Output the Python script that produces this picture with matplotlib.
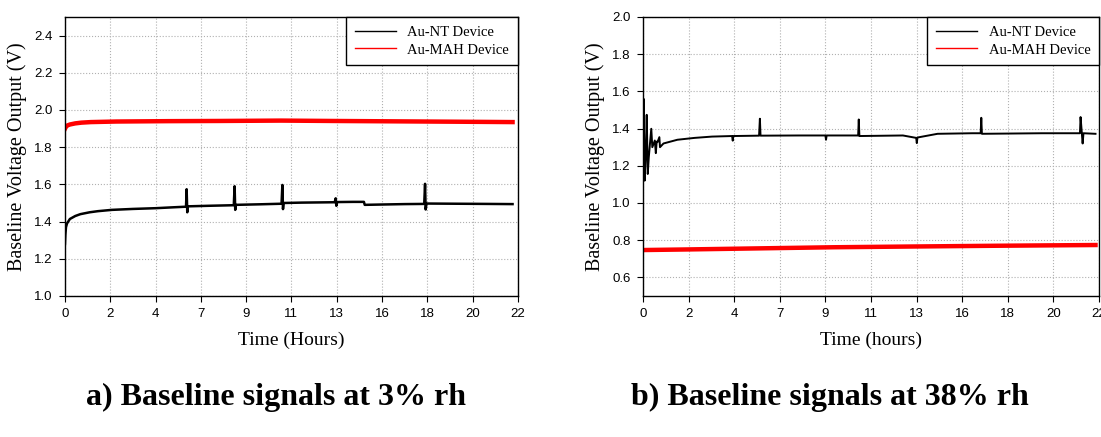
import matplotlib
matplotlib.use("Agg")
import matplotlib.pyplot as plt

# a) 3% rh  (x in axis units: 11 evenly spaced ticks over 0..22)
t_a_nt = [0.00, 0.02, 0.05, 0.10, 0.24, 0.50, 0.75, 1.20, 1.60, 2.28,
          3.30, 4.40, 5.30, 5.88, 5.91, 5.94, 5.97, 7.00, 8.20, 8.24,
          8.27, 8.30, 9.50, 10.52, 10.56, 10.59, 10.62, 11.50, 13.10, 13.15,
          13.18, 13.22, 14.00, 14.52, 14.56, 15.50, 16.50, 17.45, 17.49, 17.52,
          17.56, 19.00, 20.50, 21.74]
v_a_nt = [1.28, 1.33, 1.37, 1.39, 1.414, 1.43, 1.44, 1.45, 1.456, 1.463,
          1.468, 1.472, 1.477, 1.48, 1.574, 1.45, 1.482, 1.485, 1.488, 1.59,
          1.463, 1.49, 1.493, 1.496, 1.597, 1.467, 1.50, 1.502, 1.504, 1.525,
          1.485, 1.505, 1.506, 1.506, 1.49, 1.492, 1.494, 1.495, 1.603, 1.465,
          1.497, 1.496, 1.495, 1.494]
t_a_mah = [0.00, 0.05, 0.12, 0.24, 0.50, 0.80, 1.26, 2.50, 5.00, 7.50,
           10.50, 13.00, 16.00, 19.00, 21.74]
v_a_mah = [1.899, 1.91, 1.917, 1.922, 1.928, 1.932, 1.935, 1.938, 1.940, 1.941,
           1.943, 1.941, 1.939, 1.937, 1.935]

# b) 38% rh
t_b_nt = [0.00, 0.03, 0.08, 0.13, 0.18, 0.23, 0.28, 0.40, 0.45, 0.57,
          0.62, 0.66, 0.70, 0.79, 0.82, 0.99, 1.66, 2.49, 3.33, 4.30,
          4.33, 4.36, 5.60, 5.64, 5.67, 7.52, 8.80, 8.83, 8.86, 10.38,
          10.41, 10.44, 12.54, 13.18, 13.21, 13.24, 14.21, 15.89, 16.29, 16.32,
          16.35, 19.24, 21.08, 21.11, 21.21, 21.25, 21.83]
v_b_nt = [1.336, 1.56, 1.12, 1.246, 1.474, 1.156, 1.246, 1.399, 1.30, 1.336,
          1.268, 1.33, 1.327, 1.354, 1.30, 1.32, 1.34, 1.35, 1.357, 1.36,
          1.335, 1.36, 1.362, 1.453, 1.362, 1.363, 1.363, 1.34, 1.363, 1.363,
          1.449, 1.36, 1.363, 1.35, 1.322, 1.352, 1.372, 1.375, 1.375, 1.458,
          1.372, 1.375, 1.375, 1.462, 1.32, 1.375, 1.372]
t_b_mah = [0.00, 2.00, 5.00, 9.19, 13.00, 17.00, 21.83]
v_b_mah = [0.747, 0.750, 0.755, 0.762, 0.766, 0.770, 0.774]

xtick_labels = ['0', '2', '4', '7', '9', '11', '13', '16', '18', '20', '22']
xtick_pos = [2.2 * i for i in range(11)]

serif = 'Liberation Serif'
sans = 'Liberation Sans'

fig = plt.figure(figsize=(11.01, 4.37), dpi=100)
ax1 = fig.add_axes([0.059, 0.3227, 0.4114, 0.6384])
ax2 = fig.add_axes([0.584, 0.3227, 0.4142, 0.6384])


def style(ax, ylim, yticks, xlabel):
    ax.set_xlim(0, 22)
    ax.set_ylim(*ylim)
    ax.set_xticks(xtick_pos)
    ax.set_xticklabels(xtick_labels)
    ax.set_yticks(yticks)
    ax.set_yticklabels(['%.1f' % y for y in yticks])
    for lab in ax.get_xticklabels() + ax.get_yticklabels():
        lab.set_fontfamily(sans)
        lab.set_fontsize(9.5)
    ax.tick_params(direction='out', length=4, width=0.8, pad=5)
    ax.grid(True, linestyle=':', color='#b0b0b0', linewidth=0.8)
    ax.set_axisbelow(True)
    for s in ax.spines.values():
        s.set_linewidth(1.0)
    ax.set_xlabel(xlabel, fontfamily=serif, fontsize=14, labelpad=8)
    ax.set_ylabel('Baseline Voltage Output (V)', fontfamily=serif, fontsize=14.5, labelpad=5)
    leg = ax.legend(loc='upper right', borderaxespad=0, fancybox=False,
                    edgecolor='black', framealpha=1, handlelength=2.8,
                    prop={'family': serif, 'size': 10.5}, borderpad=0.6,
                    labelspacing=0.3)
    leg.get_frame().set_linewidth(1.0)


ax1.plot(t_a_nt, v_a_nt, color='black', linewidth=1.8, label='Au-NT Device')
ax1.plot(t_a_mah, v_a_mah, color='red', linewidth=3.2, label='Au-MAH Device')
style(ax1, (1.0, 2.5), [1.0, 1.2, 1.4, 1.6, 1.8, 2.0, 2.2, 2.4], 'Time (Hours)')
for line in ax1.get_legend().get_lines():
    line.set_linewidth(1.0)

ax2.plot(t_b_nt, v_b_nt, color='black', linewidth=1.4, label='Au-NT Device')
ax2.plot(t_b_mah, v_b_mah, color='red', linewidth=3.2, label='Au-MAH Device')
style(ax2, (0.5, 2.0), [0.6, 0.8, 1.0, 1.2, 1.4, 1.6, 1.8, 2.0], 'Time (hours)')
for line in ax2.get_legend().get_lines():
    line.set_linewidth(1.0)

fig.text(276 / 1101, 1 - 397 / 437, 'a) Baseline signals at 3% rh',
         ha='center', va='center', fontfamily=serif, fontweight='bold', fontsize=23)
fig.text(830 / 1101, 1 - 397 / 437, 'b) Baseline signals at 38% rh',
         ha='center', va='center', fontfamily=serif, fontweight='bold', fontsize=23)

fig.savefig('out.png', dpi=100)
